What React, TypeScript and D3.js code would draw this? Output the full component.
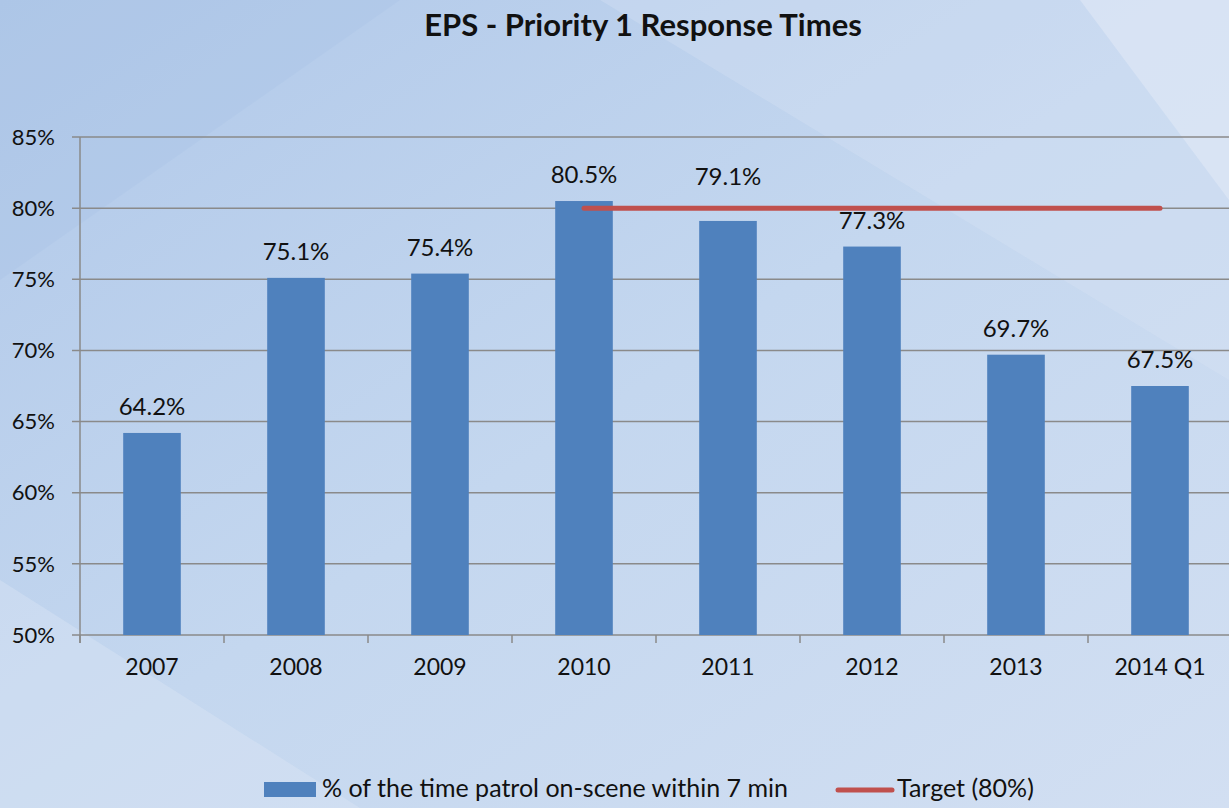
import React from "react";
import * as d3 from "d3";

const categories = ["2007", "2008", "2009", "2010", "2011", "2012", "2013", "2014 Q1"];
const onScene = [64.2, 75.1, 75.4, 80.5, 79.1, 77.3, 69.7, 67.5];
const target = 80;
const targetFrom = "2010";
const targetTo = "2014 Q1";
const yTicks = [50, 55, 60, 65, 70, 75, 80, 85];

const W = 1229;
const H = 808;
const FONT = "Lato, 'Open Sans', sans-serif";

export default function App() {
  const x = d3.scaleBand().domain(categories).range([80, 1232]).paddingInner(0.6).paddingOuter(0.3);
  const y = d3.scaleLinear().domain([50, 85]).range([635, 137]);
  const bandStep = x.step();
  const cx = (c: string) => (x(c) as number) + x.bandwidth() / 2;
  const ty = y(target);

  // ticks sit on the band boundaries
  const boundaries = categories.map((c) => (x(c) as number) - (bandStep - x.bandwidth()) / 2);

  const targetLine = d3.line<string>().x((c) => cx(c)).y(() => ty);
  const iFrom = categories.indexOf(targetFrom);
  const iTo = categories.indexOf(targetTo);

  return (
    <svg width={W} height={H} style={{ position: "absolute", left: 0, top: 0 }} fontFamily={FONT}>
      <defs>
        <linearGradient id="bg" x1="0" y1="0" x2="1" y2="1">
          <stop offset="0" stopColor="#b0c8e9" />
          <stop offset="0.5" stopColor="#c4d7ef" />
          <stop offset="1" stopColor="#d2dff2" />
        </linearGradient>
      </defs>
      <rect width={W} height={H} fill="url(#bg)" />
      <polygon points="0,280 400,0 0,0" fill="#a9c2e6" opacity={0.35} />
      <polygon points="0,580 0,808 360,808" fill="#dde7f6" opacity={0.4} />
      <polygon points="600,0 1229,0 1229,380" fill="#d9e4f4" opacity={0.3} />
      <polygon points="1229,0 1229,200 1080,0" fill="#e8eef8" opacity={0.45} />

      <text x={643} y={36} textAnchor="middle" fontWeight="bold" fontSize={31} fill="#111">
        EPS - Priority 1 Response Times
      </text>

      {yTicks.map((t) => (
        <g key={t}>
          <line x1={72} x2={W} y1={y(t)} y2={y(t)} stroke="#8a8a8a" strokeWidth={1.5} />
          <text x={55} y={y(t)} dy="0.35em" textAnchor="end" fontSize={22} fill="#111">
            {t}%
          </text>
        </g>
      ))}
      <line x1={80} x2={80} y1={137} y2={643} stroke="#8a8a8a" strokeWidth={1.5} />
      {boundaries.map((b, i) => (
        <line key={i} x1={b} x2={b} y1={635} y2={643} stroke="#8a8a8a" strokeWidth={1.5} />
      ))}

      {categories.map((c, i) => (
        <rect key={c} x={x(c)} y={y(onScene[i])} width={x.bandwidth()} height={y(50) - y(onScene[i])} fill="#4f81bd" />
      ))}

      <path
        d={targetLine(categories.slice(iFrom, iTo + 1)) || ""}
        stroke="#c0504d"
        strokeWidth={5}
        strokeLinecap="round"
        fill="none"
      />

      {categories.map((c, i) => {
        let base = y(onScene[i]) - 18;
        // push a label above the target line when it would cross it
        const inTarget = i >= iFrom && i <= iTo;
        if (inTarget && base + 3 > ty - 3 && base - 17 < ty + 3) base = ty - 23;
        return (
          <text key={c} x={cx(c)} y={base} textAnchor="middle" fontSize={24} fill="#111">
            {onScene[i].toFixed(1)}%
          </text>
        );
      })}

      {categories.map((c) => (
        <text key={c} x={cx(c)} y={675} textAnchor="middle" fontSize={23} fill="#111">
          {c}
        </text>
      ))}

      <rect x={264} y={782} width={52} height={15} fill="#4f81bd" />
      <text x={322} y={797} fontSize={25} fill="#111">
        % of the time patrol on-scene within 7 min
      </text>
      <line x1={838} x2={892} y1={790} y2={790} stroke="#c0504d" strokeWidth={5} strokeLinecap="round" />
      <text x={897} y={797} fontSize={25} fill="#111">
        Target (80%)
      </text>
    </svg>
  );
}
